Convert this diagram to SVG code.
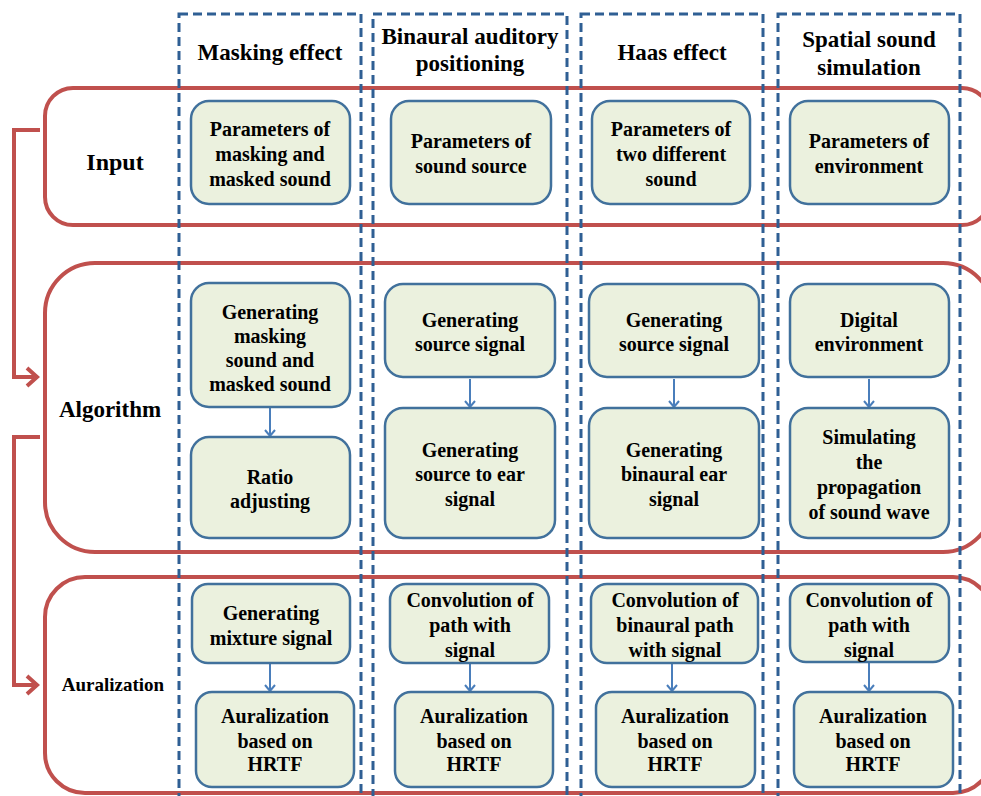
<svg xmlns="http://www.w3.org/2000/svg" width="981" height="796" viewBox="0 0 981 796">
<style>
.stage{fill:none;stroke:#C0504D;stroke-width:4}
.col{fill:none;stroke:#2F5F94;stroke-width:3;stroke-dasharray:9,5}
.node rect{fill:#EBF1DE;stroke:#41719C;stroke-width:2.5}
text{font-family:"Liberation Serif","Times New Roman",Tinos,"DejaVu Serif",serif;font-weight:bold;fill:#000;text-anchor:middle}
.t{font-size:20px}
.h{font-size:23px}
.conn{fill:none;stroke:#4A7EBB;stroke-width:2}
.redarr{fill:none;stroke:#C0504D;stroke-width:4}
</style>
<defs>
<marker id="ah" viewBox="0 0 12 12" refX="11" refY="6" markerWidth="12" markerHeight="12" markerUnits="userSpaceOnUse" orient="auto">
<path d="M5,1 L11,6 L5,11" fill="none" stroke="#4A7EBB" stroke-width="2"/>
</marker>
</defs>
<rect width="981" height="796" fill="#fff"/>
<g id="stages">
<rect class="stage" x="45" y="88" width="945" height="137" rx="28"/>
<rect class="stage" x="45" y="263" width="948" height="289" rx="50"/>
<rect class="stage" x="45" y="577" width="948" height="216" rx="40"/>
<text x="115" y="170" style="font-size:24px">Input</text>
<text x="110" y="417" style="font-size:23px">Algorithm</text>
<text x="113" y="691" style="font-size:19px">Auralization</text>
</g>
<g id="columns">
<rect class="col" x="179" y="14" width="182" height="800"/>
<rect class="col" x="373" y="14" width="194" height="800"/>
<rect class="col" x="581" y="14" width="182" height="800"/>
<rect class="col" x="778" y="14" width="182" height="800"/>
<text class="h" x="270" y="60">Masking effect</text>
<text class="h" x="470" y="44">Binaural auditory</text>
<text class="h" x="470" y="71">positioning</text>
<text class="h" x="672" y="60">Haas effect</text>
<text class="h" x="869" y="47">Spatial sound</text>
<text class="h" x="869" y="75">simulation</text>
</g>
<g id="connectors">
<path class="redarr" d="M40,130 H14 V377 H34"/>
<path class="redarr" d="M27,368 L37,377 L27,386"/>
<path class="redarr" d="M40,437 H14 V685 H34"/>
<path class="redarr" d="M27,676 L37,685 L27,694"/>
<path class="conn" d="M270,407 V436" marker-end="url(#ah)"/>
<path class="conn" d="M470,379 V407" marker-end="url(#ah)"/>
<path class="conn" d="M674,379 V407" marker-end="url(#ah)"/>
<path class="conn" d="M869,379 V407" marker-end="url(#ah)"/>
<path class="conn" d="M270,663 V691" marker-end="url(#ah)"/>
<path class="conn" d="M470,663 V691" marker-end="url(#ah)"/>
<path class="conn" d="M672,663 V691" marker-end="url(#ah)"/>
<path class="conn" d="M869,662 V691" marker-end="url(#ah)"/>
</g>
<g id="n1" class="node"><rect x="191" y="101" width="159" height="103" rx="18"/><text class="t" x="270" y="136">Parameters of</text><text class="t" x="270" y="161">masking and</text><text class="t" x="270" y="186">masked sound</text></g>
<g id="n2" class="node"><rect x="391" y="101" width="160" height="103" rx="18"/><text class="t" x="471" y="148">Parameters of</text><text class="t" x="471" y="173">sound source</text></g>
<g id="n3" class="node"><rect x="592" y="101" width="158" height="103" rx="18"/><text class="t" x="671" y="136">Parameters of</text><text class="t" x="671" y="161">two different</text><text class="t" x="671" y="186">sound</text></g>
<g id="n4" class="node"><rect x="790" y="101" width="159" height="103" rx="18"/><text class="t" x="869" y="148">Parameters of</text><text class="t" x="869" y="173">environment</text></g>
<g id="a1" class="node"><rect x="191" y="283" width="159" height="124" rx="18"/><text class="t" x="270" y="319">Generating</text><text class="t" x="270" y="343">masking</text><text class="t" x="270" y="367">sound and</text><text class="t" x="270" y="391">masked sound</text></g>
<g id="a2" class="node"><rect x="191" y="437" width="159" height="101" rx="18"/><text class="t" x="270" y="484">Ratio</text><text class="t" x="270" y="508">adjusting</text></g>
<g id="b1" class="node"><rect x="385" y="284" width="170" height="93" rx="18"/><text class="t" x="470" y="327">Generating</text><text class="t" x="470" y="351">source signal</text></g>
<g id="b2" class="node"><rect x="385" y="408" width="170" height="130" rx="18"/><text class="t" x="470" y="457">Generating</text><text class="t" x="470" y="481">source to ear</text><text class="t" x="470" y="506">signal</text></g>
<g id="c1" class="node"><rect x="589" y="284" width="170" height="93" rx="18"/><text class="t" x="674" y="327">Generating</text><text class="t" x="674" y="351">source signal</text></g>
<g id="c2" class="node"><rect x="589" y="408" width="170" height="130" rx="18"/><text class="t" x="674" y="457">Generating</text><text class="t" x="674" y="481">binaural ear</text><text class="t" x="674" y="506">signal</text></g>
<g id="d1" class="node"><rect x="790" y="284" width="159" height="93" rx="18"/><text class="t" x="869" y="327">Digital</text><text class="t" x="869" y="351">environment</text></g>
<g id="d2" class="node"><rect x="790" y="408" width="159" height="130" rx="18"/><text class="t" x="869" y="444">Simulating</text><text class="t" x="869" y="469">the</text><text class="t" x="869" y="494">propagation</text><text class="t" x="869" y="519">of sound wave</text></g>
<g id="e1" class="node"><rect x="192" y="584" width="158" height="79" rx="16"/><text class="t" x="271" y="620">Generating</text><text class="t" x="271" y="645">mixture signal</text></g>
<g id="e2" class="node"><rect x="196" y="692" width="158" height="95" rx="16"/><text class="t" x="275" y="723">Auralization</text><text class="t" x="275" y="748">based on</text><text class="t" x="275" y="771">HRTF</text></g>
<g id="f1" class="node"><rect x="390" y="584" width="159" height="79" rx="16"/><text class="t" x="470" y="607">Convolution of</text><text class="t" x="470" y="632">path with</text><text class="t" x="470" y="657">signal</text></g>
<g id="f2" class="node"><rect x="395" y="692" width="158" height="95" rx="16"/><text class="t" x="474" y="723">Auralization</text><text class="t" x="474" y="748">based on</text><text class="t" x="474" y="771">HRTF</text></g>
<g id="g1" class="node"><rect x="591" y="584" width="167" height="79" rx="16"/><text class="t" x="675" y="607">Convolution of</text><text class="t" x="675" y="632">binaural path</text><text class="t" x="675" y="657">with signal</text></g>
<g id="g2" class="node"><rect x="596" y="692" width="159" height="95" rx="16"/><text class="t" x="675" y="723">Auralization</text><text class="t" x="675" y="748">based on</text><text class="t" x="675" y="771">HRTF</text></g>
<g id="h1" class="node"><rect x="790" y="584" width="159" height="78" rx="16"/><text class="t" x="869" y="607">Convolution of</text><text class="t" x="869" y="632">path with</text><text class="t" x="869" y="657">signal</text></g>
<g id="h2" class="node"><rect x="794" y="692" width="159" height="95" rx="16"/><text class="t" x="873" y="723">Auralization</text><text class="t" x="873" y="748">based on</text><text class="t" x="873" y="771">HRTF</text></g>
</svg>
